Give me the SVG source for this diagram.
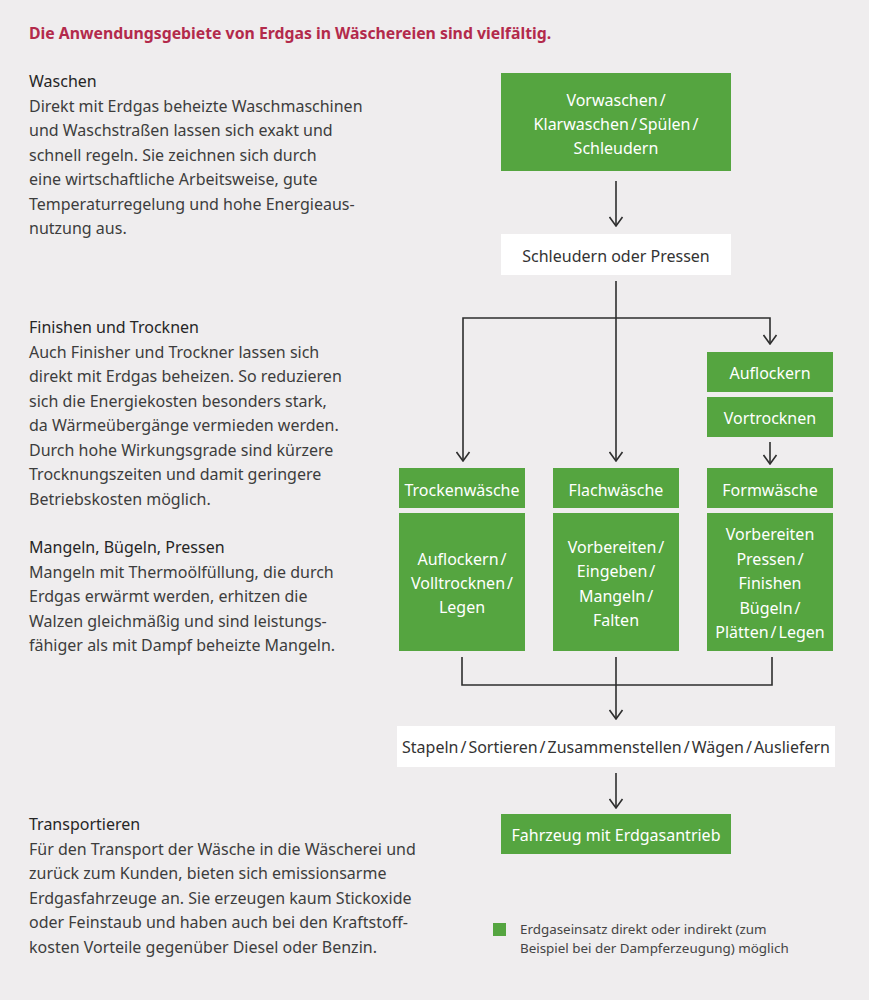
<svg xmlns="http://www.w3.org/2000/svg" width="869" height="1000" viewBox="0 0 869 1000">
<defs>
<style>
.bg{fill:#efedee}
.t{font-family:"Noto Sans","Open Sans",sans-serif;font-size:16px;fill:#3d3d3d}
.h{fill:#262626}
.title{font-family:"Noto Sans","Open Sans",sans-serif;font-size:15.8px;font-weight:bold;fill:#b32a4b}
.g{fill:#55a540}
.w{fill:#ffffff}
.gt{font-family:"Noto Sans","Open Sans",sans-serif;font-size:16px;fill:#ffffff;text-anchor:middle}
.wt{font-family:"Noto Sans","Open Sans",sans-serif;font-size:16px;fill:#333333;text-anchor:middle}
.c{fill:none;stroke:#2e2e2e;stroke-width:1.6}
.lg{font-family:"Noto Sans","Open Sans",sans-serif;font-size:13.4px;fill:#444444}
</style>
<marker id="ah" viewBox="0 0 11 15" refX="10" refY="7.5" markerWidth="11" markerHeight="15" markerUnits="userSpaceOnUse" orient="auto-start-reverse">
<path d="M1,1 L10,7.5 L1,14" fill="none" stroke="#2e2e2e" stroke-width="1.6"/>
</marker>
</defs>
<rect class="bg" x="0" y="0" width="869" height="1000"/>
<text class="title" x="29" y="39">Die Anwendungsgebiete von Erdgas in Wäschereien sind vielfältig.</text>

<g id="text-waschen" class="t">
<text x="29" y="87" class="t h">Waschen</text>
<text x="29" y="111.5">Direkt mit Erdgas beheizte Waschmaschinen</text>
<text x="29" y="136">und Waschstraßen lassen sich exakt und</text>
<text x="29" y="160.5">schnell regeln. Sie zeichnen sich durch</text>
<text x="29" y="185">eine wirtschaftliche Arbeitsweise, gute</text>
<text x="29" y="209.5">Temperaturregelung und hohe Energieaus-</text>
<text x="29" y="234">nutzung aus.</text>
</g>
<g id="text-finishen" class="t">
<text x="29" y="333" class="t h">Finishen und Trocknen</text>
<text x="29" y="357.5">Auch Finisher und Trockner lassen sich</text>
<text x="29" y="382">direkt mit Erdgas beheizen. So reduzieren</text>
<text x="29" y="406.5">sich die Energiekosten besonders stark,</text>
<text x="29" y="431">da Wärmeübergänge vermieden werden.</text>
<text x="29" y="455.5">Durch hohe Wirkungsgrade sind kürzere</text>
<text x="29" y="480">Trocknungszeiten und damit geringere</text>
<text x="29" y="504.5">Betriebskosten möglich.</text>
</g>
<g id="text-mangeln" class="t">
<text x="29" y="553" class="t h">Mangeln, Bügeln, Pressen</text>
<text x="29" y="577.5">Mangeln mit Thermoölfüllung, die durch</text>
<text x="29" y="602">Erdgas erwärmt werden, erhitzen die</text>
<text x="29" y="626.5">Walzen gleichmäßig und sind leistungs-</text>
<text x="29" y="651">fähiger als mit Dampf beheizte Mangeln.</text>
</g>
<g id="text-transport" class="t">
<text x="29" y="830" class="t h">Transportieren</text>
<text x="29" y="854.5">Für den Transport der Wäsche in die Wäscherei und</text>
<text x="29" y="879">zurück zum Kunden, bieten sich emissionsarme</text>
<text x="29" y="903.5">Erdgasfahrzeuge an. Sie erzeugen kaum Stickoxide</text>
<text x="29" y="928">oder Feinstaub und haben auch bei den Kraftstoff-</text>
<text x="29" y="952.5">kosten Vorteile gegenüber Diesel oder Benzin.</text>
</g>

<g id="connectors">
<line class="c" x1="616" y1="181" x2="616" y2="226" marker-end="url(#ah)"/>
<line class="c" x1="616" y1="281" x2="616" y2="461" marker-end="url(#ah)"/>
<polyline class="c" points="463,461 463,318 770,318 770,344" marker-start="url(#ah)" marker-end="url(#ah)"/>
<line class="c" x1="770" y1="442" x2="770" y2="464" marker-end="url(#ah)"/>
<polyline class="c" points="462,657 462,685 772,685 772,657"/>
<line class="c" x1="616" y1="657" x2="616" y2="719" marker-end="url(#ah)"/>
<line class="c" x1="616" y1="773" x2="616" y2="808" marker-end="url(#ah)"/>
</g>

<g id="node-vorwaschen">
<rect class="g" x="501" y="73" width="230" height="98"/>
<text class="gt" x="616" y="105.5">Vorwaschen<tspan dx="2">/</tspan></text>
<text class="gt" x="616" y="129.5">Klarwaschen<tspan dx="2">/</tspan><tspan dx="2">Spülen</tspan><tspan dx="2">/</tspan></text>
<text class="gt" x="616" y="153.5">Schleudern</text>
</g>
<g id="node-schleudern">
<rect class="w" x="501" y="234" width="230" height="41"/>
<text class="wt" x="616" y="261.5">Schleudern oder Pressen</text>
</g>
<g id="node-auflockern">
<rect class="g" x="707" y="352" width="126" height="40"/>
<text class="gt" x="770" y="378.5">Auflockern</text>
</g>
<g id="node-vortrocknen">
<rect class="g" x="707" y="397" width="126" height="40"/>
<text class="gt" x="770" y="423.5">Vortrocknen</text>
</g>
<g id="node-trockenwaesche">
<rect class="g" x="399" y="468" width="126" height="40"/>
<text class="gt" x="462" y="495.5">Trockenwäsche</text>
</g>
<g id="node-flachwaesche">
<rect class="g" x="553" y="468" width="126" height="40"/>
<text class="gt" x="616" y="495.5">Flachwäsche</text>
</g>
<g id="node-formwaesche">
<rect class="g" x="707" y="468" width="126" height="40"/>
<text class="gt" x="770" y="495.5">Formwäsche</text>
</g>
<g id="node-trocken-body">
<rect class="g" x="399" y="513" width="126" height="138"/>
<text class="gt" x="462" y="565">Auflockern<tspan dx="2">/</tspan></text>
<text class="gt" x="462" y="589">Volltrocknen<tspan dx="2">/</tspan></text>
<text class="gt" x="462" y="613">Legen</text>
</g>
<g id="node-flach-body">
<rect class="g" x="553" y="513" width="126" height="138"/>
<text class="gt" x="616" y="553">Vorbereiten<tspan dx="2">/</tspan></text>
<text class="gt" x="616" y="577">Eingeben<tspan dx="2">/</tspan></text>
<text class="gt" x="616" y="601.5">Mangeln<tspan dx="2">/</tspan></text>
<text class="gt" x="616" y="626">Falten</text>
</g>
<g id="node-form-body">
<rect class="g" x="707" y="513" width="126" height="138"/>
<text class="gt" x="770" y="540">Vorbereiten</text>
<text class="gt" x="770" y="564.5">Pressen<tspan dx="2">/</tspan></text>
<text class="gt" x="770" y="589">Finishen</text>
<text class="gt" x="770" y="613.5">Bügeln<tspan dx="2">/</tspan></text>
<text class="gt" x="770" y="638">Plätten<tspan dx="2">/</tspan><tspan dx="2">Legen</tspan></text>
</g>
<g id="node-stapeln">
<rect class="w" x="397" y="726" width="438" height="41"/>
<text class="wt" x="616" y="753">Stapeln<tspan dx="2">/</tspan><tspan dx="2">Sortieren</tspan><tspan dx="2">/</tspan><tspan dx="2">Zusammenstellen</tspan><tspan dx="2">/</tspan><tspan dx="2">Wägen</tspan><tspan dx="2">/</tspan><tspan dx="2">Ausliefern</tspan></text>
</g>
<g id="node-fahrzeug">
<rect class="g" x="501" y="814" width="230" height="40"/>
<text class="gt" x="616" y="840.5">Fahrzeug mit Erdgasantrieb</text>
</g>
<g id="legend">
<rect class="g" x="493" y="923" width="13" height="13"/>
<text class="lg" x="520" y="934">Erdgaseinsatz direkt oder indirekt (zum</text>
<text class="lg" x="520" y="953">Beispiel bei der Dampferzeugung) möglich</text>
</g>
</svg>
